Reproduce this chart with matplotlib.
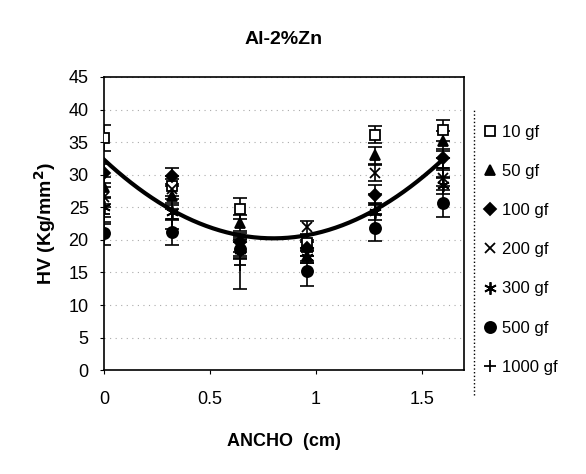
import numpy as np
import matplotlib
matplotlib.use("Agg")
import matplotlib.pyplot as plt

plt.rcParams['font.family'] = ['Liberation Sans', 'DejaVu Sans']

# posiciones a lo ancho (cm)
ancho = [0, 0.32, 0.64, 0.96, 1.28, 1.6]

labels = ["10 gf", "50 gf", "100 gf", "200 gf", "300 gf", "500 gf", "1000 gf"]
hv_10 = [35.6, 28.3, 24.8, 19.5, 36.1, 36.8]
hv_50 = [28.1, 26.8, 22.6, 17.6, 33.0, 35.2]
hv_100 = [30.2, 29.8, 19.6, 18.8, 26.9, 32.5]
hv_200 = [26.6, 27.8, 19.0, 21.9, 30.3, 29.5]
hv_300 = [25.0, 24.3, 18.4, 17.4, 24.3, 28.4]
hv_500 = [21.0, 21.2, 18.6, 15.2, 21.8, 25.6]
hv_1000 = [24.0, 23.2, 16.2, 18.2, 25.5, 31.0]

err_10 = [2.0, 1.5, 1.6, 1.2, 1.3, 1.6]
err_50 = [1.5, 1.5, 1.2, 1.2, 1.3, 1.5]
err_100 = [1.5, 1.2, 1.5, 1.2, 1.5, 1.4]
err_200 = [1.5, 1.5, 1.5, 1.0, 1.2, 1.3]
err_300 = [1.5, 1.3, 1.2, 1.0, 1.3, 1.3]
err_500 = [1.8, 2.0, 1.5, 2.3, 2.0, 2.1]
err_1000 = [1.5, 1.5, 3.8, 1.5, 1.5, 1.5]

# linea de tendencia
trend_y = [32.3, 24.6, 20.8, 20.5, 24.8, 32.3]

series = [hv_10, hv_50, hv_100, hv_200, hv_300, hv_500, hv_1000]
errs = [err_10, err_50, err_100, err_200, err_300, err_500, err_1000]
markers = ['s', '^', 'D', 'x', (6, 2, 0), 'o', '+']
faces = ['white', 'black', 'black', 'black', 'black', 'black', 'black']
sizes = [7, 7, 6, 7, 9, 8, 9]

fig = plt.figure(figsize=(5.86, 4.74), dpi=100)
ax = fig.add_axes([0.1775, 0.219, 0.6145, 0.6186])

for y, e, m, fc, s, lab in zip(series, errs, markers, faces, sizes, labels):
    ax.errorbar(ancho, y, yerr=e, fmt='none', ecolor='black', elinewidth=1.2,
                capsize=5, capthick=1.2, zorder=3)
    ax.plot(ancho, y, linestyle='none', marker=m, markersize=s,
            markerfacecolor=fc, markeredgecolor='black', markeredgewidth=1.3,
            label=lab, zorder=4)

coef = np.polyfit(ancho, trend_y, 2)
xx = np.linspace(0, 1.6, 200)
ax.plot(xx, np.polyval(coef, xx), color='black', linewidth=3, zorder=5)

ax.set_xlim(0, 1.7)
ax.set_ylim(0, 45)
ax.set_xticks([0, 0.5, 1, 1.5])
ax.set_xticklabels(['0', '0.5', '1', '1.5'])
ax.set_yticks(range(0, 46, 5))
ax.tick_params(labelsize=13, direction='out', length=3)
ax.tick_params(axis='x', pad=12)
ax.tick_params(axis='y', pad=8)
ax.yaxis.grid(True, linestyle=(0, (1, 4)), color='#aaaaaa', linewidth=0.8)
ax.set_axisbelow(True)
for sp in ax.spines.values():
    sp.set_linewidth(1.2)

ax.set_title('Al-2%Zn', fontsize=14, fontweight='bold', pad=24)
ax.set_xlabel('ANCHO  (cm)', fontsize=13, fontweight='bold', labelpad=18)
ax.set_ylabel('HV (Kg/mm$^\\mathbf{2}$)', fontsize=14, fontweight='bold', labelpad=8)

leg = ax.legend(loc='upper left', bbox_to_anchor=(1.03, 0.86), frameon=False,
                fontsize=12, labelspacing=1.45, handletextpad=0.2,
                handlelength=1.0, borderaxespad=0)
fig.add_artist(plt.Line2D([0.809, 0.809], [0.167, 0.768], transform=fig.transFigure,
                          color='black', linestyle=':', linewidth=1.0))

fig.savefig('out.png', dpi=100)
